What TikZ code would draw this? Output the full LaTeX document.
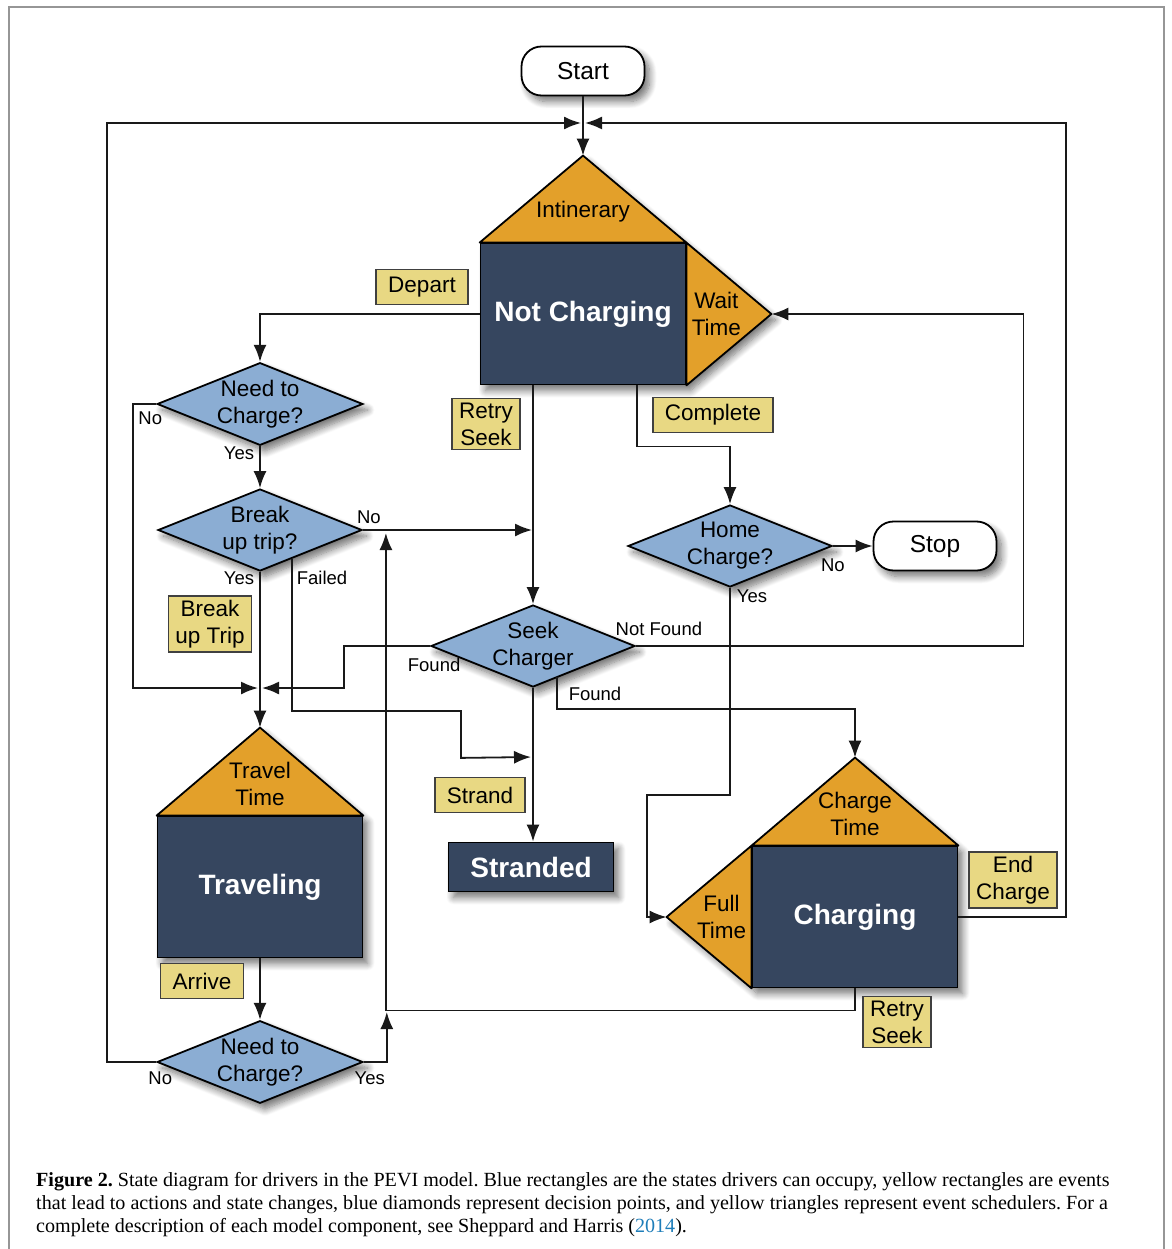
\documentclass[tikz,border=0pt]{standalone}
\usepackage{fontspec}
\setmainfont{Liberation Sans}
\newfontfamily\capfont{Liberation Serif}
\usepackage{xcolor}
\usepackage{tikz}
\usetikzlibrary{calc}
\usetikzlibrary{arrows.meta}
\usetikzlibrary{shapes}
\usetikzlibrary{shapes.geometric}
\usetikzlibrary{positioning}
\usetikzlibrary{shadows}
\usetikzlibrary{shadows.blur}
\definecolor{stateblue}{RGB}{54,70,95}
\definecolor{schedorange}{RGB}{227,160,42}
\definecolor{decideblue}{RGB}{139,173,211}
\definecolor{eventyellow}{RGB}{232,216,131}
\definecolor{framegray}{RGB}{150,150,150}
\definecolor{citeblue}{RGB}{30,125,185}
\tikzset{>=latex}
\tikzset{softshadow/.style={blur shadow={shadow xshift=5pt, shadow yshift=-6pt, shadow blur radius=7pt, shadow blur steps=10, shadow opacity=55}}}
\tikzstyle{flow} = [draw=black!90, line width=1.8pt, -{Latex[length=17pt,width=13pt]}]
\tikzstyle{stateblock} = [rectangle, draw=black, line width=1.8pt, fill=stateblue, text=white, font=\bfseries\fontsize{28}{32}\selectfont, minimum width=205pt, minimum height=141pt, inner sep=0pt]
\tikzstyle{sched} = [draw=black, line width=1.8pt, fill=schedorange, line join=round]
\tikzstyle{schedtext} = [align=center, font=\fontsize{22.5}{27}\selectfont, inner sep=0pt]
\tikzstyle{decide} = [diamond, draw=black, line width=1.8pt, fill=decideblue, aspect=2.49, minimum width=204pt, minimum height=82pt, inner sep=0pt, align=center, font=\fontsize{22.5}{27}\selectfont, softshadow]
\tikzstyle{term} = [rectangle, rounded corners=20pt, draw=black, line width=1.8pt, fill=white, minimum width=123pt, minimum height=49pt, font=\fontsize{24.5}{29}\selectfont, softshadow]
\tikzstyle{event} = [rectangle, draw=black!75, line width=1.5pt, fill=eventyellow, align=center, font=\fontsize{22.5}{27}\selectfont, minimum height=35pt, inner xsep=12pt, inner ysep=4pt]
\tikzstyle{event2} = [event, inner xsep=7pt]
\tikzstyle{lbl} = [font=\fontsize{18.5}{22}\selectfont, inner sep=0pt]
\tikzstyle{capline} = [anchor=base west, inner sep=0pt, font=\capfont\fontsize{20.1}{23}\selectfont]

\begin{document}
\frenchspacing
\begin{tikzpicture}[x=1pt, y=-1pt]
\useasboundingbox (0,0) rectangle (1171,1249);
\draw [framegray, line width=2pt] (9,1249) -- (9,7) -- (1164,7) -- (1164,1249);

% state centres
\coordinate (ncc) at (583,314);
\coordinate (travc) at (260,887);
\coordinate (chgc) at (855,917);
\coordinate (strdc) at (531,867);

% shadows of the state blocks with their triangles
\fill [softshadow, white] ($(ncc)+(-102.5,70.5)$) -- ++(0,-141) -- ++(102.5,-87) -- ++(102.5,87) -- ++(85,70.5) -- ++(-85,70.5) -- cycle;
\fill [softshadow, white] ($(travc)+(-102.5,70.5)$) -- ++(0,-141) -- ++(102.5,-88) -- ++(102.5,88) -- ++(0,141) -- cycle;
\fill [softshadow, white] ($(chgc)+(-102.5,70.5)$) -- ++(-85,-70.5) -- ++(85,-70.5) -- ++(102.5,-88) -- ++(102.5,88) -- ++(0,141) -- cycle;
\fill [softshadow, white] ($(strdc)+(-82.5,24.5)$) rectangle ++(165,-49);

% terminals
\node [term] (start) at (583,71) {Start};
\node [term] (stop) at (935,546) {Stop};

% states
\node [stateblock] (nc) at (ncc) {Not Charging};
\node [stateblock] (trav) at (travc) {Traveling};
\node [stateblock] (chg) at (chgc) {Charging};
\node [stateblock, minimum width=165pt, minimum height=49pt] (strd) at (strdc) {Stranded};

% scheduler triangles
\coordinate (itin) at ($(nc.north)+(0,-87)$);
\coordinate (wait) at ($(nc.east)+(85,0)$);
\coordinate (ttime) at ($(trav.north)+(0,-88)$);
\coordinate (ctime) at ($(chg.north)+(0,-88)$);
\coordinate (full) at ($(chg.west)+(-85,0)$);

\filldraw [sched] (nc.north west) -- (itin) -- (nc.north east) -- cycle;
\filldraw [sched] (nc.north east) -- (wait) -- (nc.south east) -- cycle;
\filldraw [sched] (trav.north west) -- (ttime) -- (trav.north east) -- cycle;
\filldraw [sched] (chg.north west) -- (ctime) -- (chg.north east) -- cycle;
\filldraw [sched] (chg.north west) -- (full) -- (chg.south west) -- cycle;
\node [schedtext] (itintxt) at ($(nc.north)+(0,-31)$) {Intinerary};
\node [schedtext] (waittxt) at ($(nc.east)+(30,0)$) {Wait\\Time};
\node [schedtext] (ttimetxt) at ($(trav.north)+(0,-32)$) {Travel\\Time};
\node [schedtext] (ctimetxt) at ($(chg.north)+(0,-32)$) {Charge\\Time};
\node [schedtext] (fulltxt) at ($(chg.west)+(-30,0)$) {Full\\Time};

% decisions
\node [decide] (nd1) at (260,404) {Need to\\Charge?};
\node [decide] (bt) at (260,530) {Break\\up trip?};
\node [decide] (hc) at (730,546) {Home\\Charge?};
\node [decide] (sk) at (533,646) {Seek\\Charger};
\node [decide] (nd2) at (260,1062) {Need to\\Charge?};

% events
\node [event] (depart) at (422,287) {Depart};
\node [event2] (retry1) at (486,424) {Retry\\Seek};
\node [event] (compl) at (713,415) {Complete};
\node [event2] (brk) at (210,624) {Break\\up Trip};
\node [event] (strand) at (480,795) {Strand};
\node [event] (arrive) at (202,981) {Arrive};
\node [event2] (endc) at (1013,880) {End\\Charge};
\node [event2] (retry2) at (897,1022) {Retry\\Seek};

\coordinate (top) at (583,123);
\coordinate (lft) at (107,123);
\coordinate (rgt) at (1066,123);
\coordinate (merge) at (260,688);
\coordinate (strin) at (533,757);

% connectors
\draw [flow] (start) -- (itin);
\draw [flow, shorten >=2pt] (nd2.west) -| (lft) -- (top);
\draw [flow, shorten >=2pt] (chg.east) -| (rgt) -- (top);
\draw [flow] (nc.west) -| (nd1.north);
\draw [flow] (nd1.south) -- (bt.north);
\draw [flow, shorten >=2pt] (nd1.west) -- ++(-23,0) |- (merge);
\draw [flow] (bt.south) -- (ttime);
\draw [flow, shorten >=1pt] (bt.east) -- (bt.east -| sk.north);
\draw [flow, shorten >=2pt] ($(bt.south)+(32,-13)$) -- ++(0,152) -| ++(169,47) -- (strin);
\draw [flow] (nc.south -| sk.north) -- (sk.north);
\draw [flow] ($(nc.south)+(54,0)$) -- ++(0,61) -| (hc.north);
\draw [flow] (hc.east) -- (stop.west);
\draw [flow] (hc.south) -- ++(0,207) -| ($(full)+(-20,0)$) -- (full);
\draw [flow] (sk.east) -| ($(wait)+(252,0)$) -- (wait);
\draw [flow, shorten >=2pt] (sk.west) -| ($(merge)+(84,0)$) -- (merge);
\draw [flow] ($(sk.south)+(24,-11)$) |- ($(ctime)+(0,-49)$) -- (ctime);
\draw [flow] (sk.south) -- (sk.south |- strd.north);
\draw [flow] (trav.south) -- (nd2.north);
\draw [flow] (nd2.east) -| ($(nd2.east)+(23,-50)$);
\draw [flow] (chg.south) -- ++(0,22) -| ($(bt.east)+(23,3)$);

% branch labels
\node [lbl] (nd1no) at ($(nd1.west)+(-6,14)$) {No};
\node [lbl] (nd1yes) at ($(nd1.south)+(-21,7)$) {Yes};
\node [lbl] (btno) at ($(bt.east)+(6,-13)$) {No};
\node [lbl] (btyes) at ($(bt.south)+(-21,6)$) {Yes};
\node [lbl] (btfail) at ($(bt.south)+(62,6)$) {Failed};
\node [lbl] (hcno) at ($(hc.east)+(0,19)$) {No};
\node [lbl] (hcyes) at ($(hc.south)+(22,8)$) {Yes};
\node [lbl] (sknf) at ($(sk.east)+(23,-17)$) {Not Found};
\node [lbl] (skfl) at ($(sk.west)+(4,19)$) {Found};
\node [lbl] (skfr) at ($(sk.south)+(62,6)$) {Found};
\node [lbl] (nd2no) at ($(nd2.west)+(4,16)$) {No};
\node [lbl] (nd2yes) at ($(nd2.east)+(6,16)$) {Yes};

% caption
\node [capline] (cap1) at (36,1186) {\textbf{Figure 2.} State diagram for drivers in the PEVI model. Blue rectangles are the states drivers can occupy, yellow rectangles are events};
\node [capline] (cap2) at (36,1209) {that lead to actions and state changes, blue diamonds represent decision points, and yellow triangles represent event schedulers. For a};
\node [capline] (cap3) at (36,1232) {complete description of each model component, see Sheppard and Harris (\textcolor{citeblue}{2014}).};
\end{tikzpicture}
\end{document}
